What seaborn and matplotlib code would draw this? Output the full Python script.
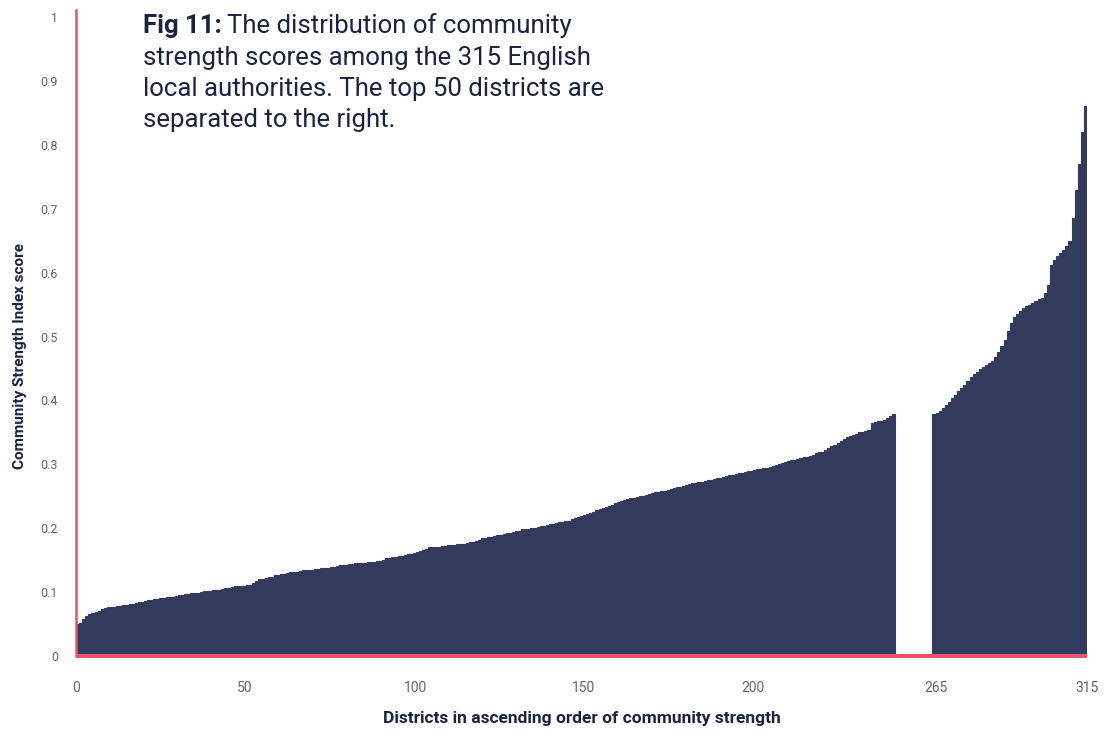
import numpy as np
import seaborn as sns
import matplotlib.pyplot as plt

# Community Strength Index scores, districts sorted ascending
lower_265 = [
    0.050, 0.052, 0.058, 0.062, 0.065, 0.067, 0.069, 0.071, 0.073, 0.075,
    0.076, 0.076, 0.077, 0.078, 0.079, 0.080, 0.080, 0.081, 0.082, 0.083,
    0.084, 0.085, 0.086, 0.087, 0.088, 0.089, 0.089, 0.090, 0.091, 0.092,
    0.093, 0.093, 0.094, 0.095, 0.096, 0.097, 0.097, 0.098, 0.099, 0.099,
    0.100, 0.101, 0.101, 0.102, 0.103, 0.104, 0.104, 0.105, 0.106, 0.107,
    0.108, 0.109, 0.109, 0.110, 0.110, 0.111, 0.111, 0.114, 0.117, 0.120,
    0.121, 0.122, 0.123, 0.124, 0.126, 0.127, 0.128, 0.129, 0.130, 0.131,
    0.131, 0.132, 0.133, 0.134, 0.134, 0.135, 0.135, 0.136, 0.136, 0.137,
    0.138, 0.138, 0.139, 0.140, 0.141, 0.142, 0.142, 0.143, 0.144, 0.144,
    0.145, 0.146, 0.146, 0.146, 0.147, 0.147, 0.147, 0.148, 0.148, 0.150,
    0.153, 0.154, 0.155, 0.155, 0.156, 0.157, 0.158, 0.159, 0.160, 0.161,
    0.162, 0.164, 0.166, 0.168, 0.170, 0.170, 0.171, 0.171, 0.172, 0.172,
    0.173, 0.173, 0.174, 0.175, 0.176, 0.176, 0.177, 0.178, 0.179, 0.180,
    0.182, 0.184, 0.185, 0.186, 0.187, 0.188, 0.189, 0.190, 0.191, 0.192,
    0.193, 0.194, 0.195, 0.196, 0.198, 0.199, 0.199, 0.200, 0.201, 0.202,
    0.203, 0.204, 0.205, 0.206, 0.207, 0.208, 0.209, 0.210, 0.211, 0.212,
    0.214, 0.216, 0.218, 0.219, 0.220, 0.222, 0.224, 0.226, 0.228, 0.230,
    0.232, 0.233, 0.235, 0.237, 0.239, 0.241, 0.242, 0.244, 0.246, 0.247,
    0.248, 0.249, 0.250, 0.251, 0.252, 0.253, 0.255, 0.256, 0.257, 0.258,
    0.259, 0.260, 0.262, 0.263, 0.264, 0.265, 0.266, 0.267, 0.269, 0.270,
    0.271, 0.272, 0.273, 0.274, 0.275, 0.276, 0.277, 0.278, 0.279, 0.280,
    0.282, 0.283, 0.284, 0.285, 0.286, 0.287, 0.288, 0.289, 0.290, 0.291,
    0.292, 0.293, 0.294, 0.295, 0.296, 0.298, 0.299, 0.300, 0.302, 0.303,
    0.305, 0.306, 0.307, 0.309, 0.310, 0.311, 0.312, 0.313, 0.315, 0.317,
    0.319, 0.320, 0.322, 0.325, 0.328, 0.331, 0.333, 0.336, 0.339, 0.342,
    0.345, 0.346, 0.348, 0.350, 0.351, 0.352, 0.354, 0.364, 0.366, 0.367,
    0.368, 0.370, 0.372, 0.375, 0.378,
]

top_50 = [
    0.378, 0.380, 0.383, 0.388, 0.393, 0.398, 0.403, 0.409, 0.414, 0.419,
    0.424, 0.430, 0.436, 0.441, 0.445, 0.449, 0.453, 0.456, 0.459, 0.462,
    0.468, 0.476, 0.485, 0.495, 0.508, 0.521, 0.530, 0.535, 0.540, 0.545,
    0.548, 0.550, 0.553, 0.556, 0.558, 0.561, 0.568, 0.580, 0.612, 0.620,
    0.626, 0.631, 0.636, 0.642, 0.650, 0.685, 0.730, 0.770, 0.820, 0.860,
]

x_tick_labels = ["0", "50", "100", "150", "200", "265", "315"]
y_tick_labels = ["0", "0.1", "0.2", "0.3", "0.4", "0.5", "0.6", "0.7", "0.8", "0.9", "1"]

# colours
NAVY = "#323b5c"
PINK = "#e8546b"
TEXT = "#1b2140"
GREY = "#666666"

# layout: a gap of a few bar widths separates the top 50
gap = 12
pos = np.concatenate([np.arange(len(lower_265)) + 0.5,
                      np.arange(len(top_50)) + len(lower_265) + gap + 0.5])
scores = np.array(lower_265 + top_50)
x_end = len(lower_265) + gap + len(top_50)
x_tick_pos = [0, 54.7, 109.7, 164.1, 219.1, 278.3, x_end]

sns.set_style("white")
plt.rcParams["font.family"] = ["Roboto", "DejaVu Sans"]

fig = plt.figure(figsize=(11.2, 7.3), dpi=100)
ax = fig.add_axes([76 / 1120, 1 - 656 / 730, 1011 / 1120, 646 / 730])

sns.barplot(x=pos, y=scores, native_scale=True, width=1, color=NAVY,
            saturation=1, errorbar=None, linewidth=0.8, edgecolor=NAVY, ax=ax)

ax.set_xlim(0, x_end)
ax.set_ylim(0, 1.011)

# ejes en rosa
sns.despine(ax=ax, top=True, right=True)
ax.spines["left"].set_color(PINK)
ax.spines["left"].set_linewidth(1.8)
ax.spines["bottom"].set_color(PINK)
ax.spines["bottom"].set_linewidth(2.9)
ax.spines["bottom"].set_capstyle("butt")

ax.set_xticks(x_tick_pos)
ax.set_xticklabels(x_tick_labels, fontsize=10, color=GREY)
ax.set_yticks(np.arange(len(y_tick_labels)) / 10)
ax.set_yticklabels(y_tick_labels, fontsize=9, color=GREY)
ax.tick_params(axis="x", length=0, pad=18)
ax.tick_params(axis="y", length=0, pad=13)

ax.set_xlabel("Districts in ascending order of community strength",
              fontsize=12.5, fontweight="bold", color=TEXT)
ax.set_ylabel("Community Strength Index score",
              fontsize=11, fontweight="bold", color=TEXT)
ax.xaxis.set_label_coords(0.5, -(723 - 656) / 646)
ax.xaxis.label.set_va("baseline")
ax.yaxis.set_label_coords(-(76 - 27) / 1011, (656 - 356) / 646)

# título dentro del gráfico: "Fig 11:" en negrita
title_lines = ["The distribution of community",
               "strength scores among the 315 English",
               "local authorities. The top 50 districts are",
               "separated to the right."]
x0 = 143 / 1120
baselines = [33, 65, 96, 127]
bold = fig.text(x0, 1 - baselines[0] / 730, "Fig 11:", fontsize=18.5,
                fontweight="bold", color=TEXT, va="baseline")
renderer = fig.canvas.get_renderer()
bb = bold.get_window_extent(renderer)
fig.text((bb.x1 + 5) / 1120, 1 - baselines[0] / 730, title_lines[0],
         fontsize=18.5, color=TEXT, va="baseline")
for line, b in zip(title_lines[1:], baselines[1:]):
    fig.text(x0, 1 - b / 730, line, fontsize=18.5, color=TEXT, va="baseline")

fig.savefig("out.png", dpi=100)
